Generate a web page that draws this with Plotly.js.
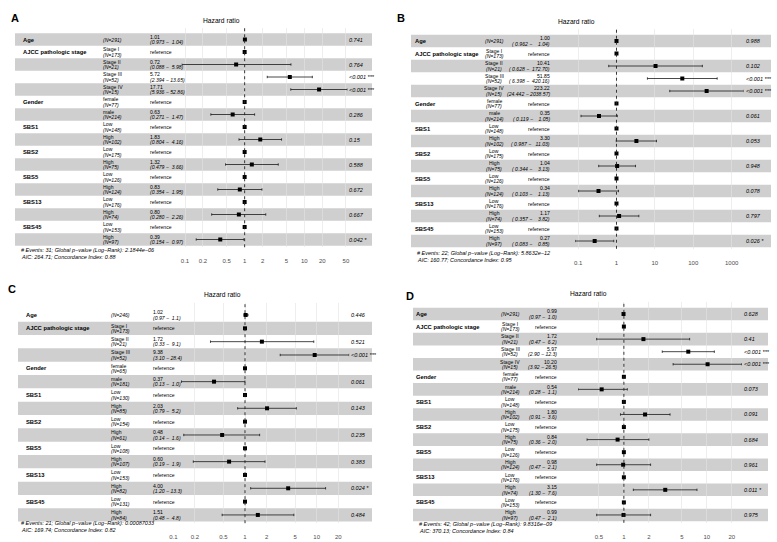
<!DOCTYPE html>
<html>
<head>
<meta charset="utf-8">
<script src="https://cdn.plot.ly/plotly-3.0.1.min.js"></script>
<style>
  html, body { margin: 0; padding: 0; background: #fff; }
  #plot { width: 777px; height: 542px; }
</style>
</head>
<body>
<div id="plot"></div>
<script>
// row labels (17 rows with Stage IV, 16 rows without)
const vars17 = ['Age', 'AJCC pathologic stage', '', '', '', 'Gender', '', 'SBS1', '', 'SBS2', '', 'SBS5', '', 'SBS13', '', 'SBS45', ''];
const levels17 = ['', 'Stage I', 'Stage II', 'Stage III', 'Stage IV', 'female', 'male', 'Low', 'High', 'Low', 'High', 'Low', 'High', 'Low', 'High', 'Low', 'High'];
const vars16 = ['Age', 'AJCC pathologic stage', '', '', 'Gender', '', 'SBS1', '', 'SBS2', '', 'SBS5', '', 'SBS13', '', 'SBS45', ''];
const levels16 = ['', 'Stage I', 'Stage II', 'Stage III', 'female', 'male', 'Low', 'High', 'Low', 'High', 'Low', 'High', 'Low', 'High', 'Low', 'High'];

// A
const aN = [291, 173, 21, 52, 15, 77, 214, 148, 102, 175, 75, 126, 124, 176, 74, 153, 97];
const aHR = ['1.01', null, '0.72', '5.72', '17.71', null, '0.63', null, '1.83', null, '1.32', null, '0.83', null, '0.80', null, '0.39'];
const aLo = ['0.973', null, '0.088', '2.394', '5.936', null, '0.271', null, '0.804', null, '0.479', null, '0.354', null, '0.280', null, '0.154'];
const aHi = ['1.04', null, '5.98', '13.65', '52.86', null, '1.47', null, '4.16', null, '3.66', null, '1.95', null, '2.26', null, '0.97'];
const aP = ['0.741', '', '0.764', '<0.001 ***', '<0.001 ***', '', '0.286', '', '0.15', '', '0.588', '', '0.672', '', '0.667', '', '0.042 *'];
const aTicks = [0.1, 0.2, 0.5, 1, 2, 5, 10, 20, 50];
const aNote = ['# Events: 31; Global p\u2212value (Log\u2212Rank): 2.1844e\u221206', 'AIC: 264.71; Concordance Index: 0.88'];

// B
const bN = [291, 173, 21, 52, 15, 77, 214, 148, 102, 175, 75, 126, 124, 176, 74, 153, 97];
const bHR = ['1.00', null, '10.41', '51.85', '223.22', null, '0.35', null, '3.30', null, '1.04', null, '0.34', null, '1.17', null, '0.27'];
const bLo = ['0.962', null, '0.628', '6.398', '24.442', null, '0.119', null, '0.987', null, '0.344', null, '0.103', null, '0.357', null, '0.083'];
const bHi = ['1.04', null, '172.70', '420.16', '2038.57', null, '1.05', null, '11.03', null, '3.13', null, '1.13', null, '3.82', null, '0.85'];
const bP = ['0.988', '', '0.102', '<0.001 ***', '<0.001 ***', '', '0.061', '', '0.053', '', '0.948', '', '0.078', '', '0.797', '', '0.026 *'];
const bTicks = [0.1, 1, 10, 100, 1000];
const bNote = ['# Events: 22; Global p\u2212value (Log\u2212Rank): 5.8632e\u221212', 'AIC: 160.77; Concordance Index: 0.95'];

// C
const cN = [246, 173, 21, 52, 65, 181, 130, 85, 154, 61, 108, 107, 153, 82, 131, 84];
const cHR = ['1.02', null, '1.72', '9.38', null, '0.37', null, '2.03', null, '0.48', null, '0.60', null, '4.00', null, '1.51'];
const cLo = ['0.97', null, '0.33', '3.10', null, '0.13', null, '0.79', null, '0.14', null, '0.19', null, '1.20', null, '0.48'];
const cHi = ['1.1', null, '9.1', '28.4', null, '1.0', null, '5.2', null, '1.6', null, '1.9', null, '13.3', null, '4.8'];
const cP = ['0.446', '', '0.521', '<0.001 ***', '', '0.061', '', '0.143', '', '0.235', '', '0.383', '', '0.024 *', '', '0.484'];
const cTicks = [0.1, 0.2, 0.5, 1, 2, 5, 10, 20];
const cNote = ['# Events: 21; Global p\u2212value (Log\u2212Rank): 0.00087033', 'AIC: 169.74; Concordance Index: 0.82'];

// D
const dN = [291, 173, 21, 52, 15, 77, 214, 148, 102, 175, 75, 126, 124, 176, 74, 153, 97];
const dHR = ['0.99', null, '1.72', '5.97', '10.20', null, '0.54', null, '1.80', null, '0.84', null, '0.98', null, '3.15', null, '0.99'];
const dLo = ['0.97', null, '0.47', '2.90', '3.92', null, '0.28', null, '0.91', null, '0.36', null, '0.47', null, '1.30', null, '0.47'];
const dHi = ['1.0', null, '6.2', '12.3', '26.5', null, '1.1', null, '3.6', null, '2.0', null, '2.1', null, '7.6', null, '2.1'];
const dP = ['0.628', '', '0.41', '<0.001 ***', '<0.001 ***', '', '0.073', '', '0.091', '', '0.684', '', '0.961', '', '0.011 *', '', '0.975'];
const dTicks = [0.5, 1, 2, 5, 10, 20];
const dNote = ['# Events: 42; Global p\u2212value (Log\u2212Rank): 9.8316e\u221209', 'AIC: 370.13; Concordance Index: 0.84'];

const FONT = '"Liberation Sans", Arial, Helvetica, sans-serif';
const W = 777, H = 542;
const fx = p => p / W;
const fy = p => 1 - p / H;
const NB = '\u00a0';
const CELL = 5.1;   // table text size
const HALF = 2.7;   // half line gap for two-line cells

// pixel geometry of each panel
const panels = [
    { letter: 'A', vars: vars17, lev: levels17, n: aN, hr: aHR, lo: aLo, hi: aHi, p: aP, ticks: aTicks, note: aNote,
      letterXY: [10, 11], titleXY: [202, 16], varX: 22, levelX: 102, hrX: 149, band: [15, 372],
      plot: [181.7, 347.4], row1: 39.5, pitch: 12.5, grid: [27.75, 247.25], noteX: 20, noteY: [249.8, 257.2] },
    { letter: 'B', vars: vars17, lev: levels17, n: bN, hr: bHR, lo: bLo, hi: bHi, p: bP, ticks: bTicks, note: bNote,
      letterXY: [401, 11], titleXY: [596, 17], varX: 414, levelX: 494, hrX: 551, band: [411, 771],
      plot: [575, 743.5], row1: 41, pitch: 12.5, grid: [29.25, 248.75], noteX: 416, noteY: [252.5, 259.5] },
    { letter: 'C', vars: vars16, lev: levels16, n: cN, hr: cHR, lo: cLo, hi: cHi, p: cP, ticks: cTicks, note: cNote,
      letterXY: [7, 289], titleXY: [203, 294], varX: 25, levelX: 110, hrX: 152, band: [18, 372],
      plot: [173.3, 349.2], row1: 315, pitch: 13.33, grid: [302.8, 523.2], noteX: 20, noteY: [526.5, 534] },
    { letter: 'D', vars: vars17, lev: levels17, n: dN, hr: dHR, lo: dLo, hi: dHi, p: dP, ticks: dTicks, note: dNote,
      letterXY: [410, 296], titleXY: [608, 293], varX: 415, levelX: 510, hrX: 558, band: [413, 768],
      plot: [578, 742], row1: 314, pitch: 12.56, grid: [302.2, 522.8], noteX: 418, noteY: [528, 535] }
];

const data = [];
const shapes = [];
const annotations = [];
const layout = {
    width: W, height: H,
    margin: { l: 0, r: 0, t: 0, b: 0 },
    paper_bgcolor: '#fff', plot_bgcolor: 'rgba(0,0,0,0)',
    showlegend: false,
    font: { family: FONT, color: '#000' }
};

function txt(x, y, text, size, opts) {
    return Object.assign({ x: x, y: y, text: text, showarrow: false, borderpad: 0,
        font: { family: FONT, size: size, color: '#000' } }, opts);
}

panels.forEach((pn, i) => {
    const s = i === 0 ? '' : String(i + 1);
    const xa = 'x' + s, ya = 'y' + s;
    const nRows = pn.n.length;
    const rows = pn.n.map((_, k) => k + 1);

    const hrNum = pn.hr.map(v => v === null ? 1 : Number(v));
    const loNum = pn.lo.filter(v => v !== null).map(Number);
    const hiNum = pn.hi.filter(v => v !== null).map(Number);
    const xmin = Math.min(Math.min(...loNum), pn.ticks[0]);
    const xmax = Math.max(Math.max(...hiNum), pn.ticks[pn.ticks.length - 1]);

    // y axis: row index, reversed
    const rTop = 1 + (pn.grid[0] - pn.row1) / pn.pitch;
    const rBot = 1 + (pn.grid[1] - pn.row1) / pn.pitch;

    layout['xaxis' + s] = {
        type: 'log', domain: [fx(pn.plot[0]), fx(pn.plot[1])],
        range: [Math.log10(xmin), Math.log10(xmax)], anchor: ya,
        tickvals: pn.ticks, ticktext: pn.ticks.map(String),
        showgrid: true, gridcolor: '#e2e2e2', gridwidth: 0.6,
        zeroline: false, showline: false, ticks: '', ticklabelstandoff: 9,
        tickfont: { family: FONT, size: 6, color: '#4d4d4d' }, fixedrange: true
    };
    layout['yaxis' + s] = {
        domain: [fy(pn.grid[1]), fy(pn.grid[0])], range: [rBot, rTop],
        anchor: xa, visible: false, fixedrange: true
    };

    // alternating bands, last row grey
    rows.forEach(r => {
        if ((nRows - r) % 2 === 0) {
            shapes.push({
                type: 'rect', layer: 'below', xref: 'paper', yref: ya,
                x0: fx(pn.band[0]), x1: fx(pn.band[1]), y0: r - 0.5, y1: r + 0.5,
                fillcolor: 'rgba(0,0,0,0.19)', line: { width: 0 }
            });
        }
    });

    // reference line at HR = 1
    shapes.push({
        type: 'line', xref: xa, yref: ya + ' domain', x0: 1, x1: 1, y0: 0, y1: 1,
        line: { color: '#222', width: 0.9, dash: 'dot' }
    });

    data.push({
        type: 'scatter', mode: 'markers', x: hrNum, y: rows, xaxis: xa, yaxis: ya,
        marker: { symbol: 'square', size: 4, color: '#000' },
        error_x: {
            type: 'data', symmetric: false,
            array: pn.hi.map((v, k) => v === null ? NaN : Number(v) - hrNum[k]),
            arrayminus: pn.lo.map((v, k) => v === null ? NaN : hrNum[k] - Number(v)),
            color: '#1a1a1a', thickness: 0.8, width: 1.2
        },
        cliponaxis: false, hoverinfo: 'skip'
    });

    // padded CI strings
    const loW = Math.max(...pn.lo.filter(v => v !== null).map(v => v.length));
    const hiW = Math.max(...pn.hi.filter(v => v !== null).map(v => v.length));

    rows.forEach((r, k) => {
        if (pn.vars[k]) {
            annotations.push(txt(fx(pn.varX), r, '<b>' + pn.vars[k] + '</b>', 5.8,
                { xref: 'paper', yref: ya, xanchor: 'left' }));
        }
        const nTxt = '<i>(N=' + pn.n[k] + ')</i>';
        if (pn.lev[k]) {
            annotations.push(txt(fx(pn.levelX), r, pn.lev[k], CELL, { xref: 'paper', yref: ya, yshift: HALF }));
            annotations.push(txt(fx(pn.levelX), r, nTxt, CELL, { xref: 'paper', yref: ya, yshift: -HALF }));
        } else {
            annotations.push(txt(fx(pn.levelX), r, nTxt, CELL, { xref: 'paper', yref: ya }));
        }
        if (pn.hr[k] === null) {
            annotations.push(txt(fx(pn.hrX), r, 'reference', CELL, { xref: 'paper', yref: ya }));
        } else {
            const ci = '<i>(' + pn.lo[k].padStart(loW, NB) + ' \u2212 ' + pn.hi[k].padStart(hiW, NB) + ')</i>';
            annotations.push(txt(fx(pn.hrX), r, pn.hr[k], CELL, { xref: 'paper', yref: ya, yshift: HALF }));
            annotations.push(txt(fx(pn.hrX), r, ci, CELL, { xref: 'paper', yref: ya, yshift: -HALF }));
        }
        if (pn.p[k]) {
            annotations.push(txt(1, r, '<i>' + pn.p[k].replace('<', '&lt;') + '</i>', 5.5,
                { xref: xa + ' domain', yref: ya, xanchor: 'left', xshift: 1 }));
        }
    });

    annotations.push(txt(fx(pn.letterXY[0]), fy(pn.letterXY[1]), '<b>' + pn.letter + '</b>', 11,
        { xref: 'paper', yref: 'paper' }));
    annotations.push(txt(fx(pn.titleXY[0]), fy(pn.titleXY[1]), 'Hazard ratio', 6.7,
        { xref: 'paper', yref: 'paper' }));
    pn.note.forEach((line, j) => {
        annotations.push(txt(fx(pn.noteX), fy(pn.noteY[j]), '<i>' + line + '</i>', 5.5,
            { xref: 'paper', yref: 'paper', xanchor: 'left' }));
    });
});

layout.shapes = shapes;
layout.annotations = annotations;

Plotly.newPlot('plot', data, layout, { staticPlot: true, displayModeBar: false });
</script>
</body>
</html>
